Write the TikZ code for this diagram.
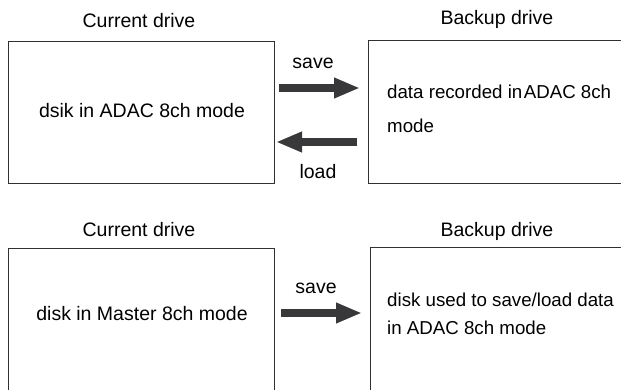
\documentclass[tikz,border=0pt]{standalone}
\usepackage{fontspec}
\setmainfont{Liberation Sans}
\usetikzlibrary{arrows.meta}
\definecolor{arrowgray}{HTML}{38383B}
\definecolor{linegray}{HTML}{303030}
\begin{document}
\begin{tikzpicture}[x=1pt,y=-1pt,
  lbl/.style={font=\fontsize{19.5}{23}\selectfont, inner sep=0pt, anchor=base, text=black},
  rlbl/.style={font=\fontsize{18.7}{23}\selectfont, inner sep=0pt, anchor=base west, text=black},
  box/.style={draw=linegray, line width=1.1pt, inner sep=0pt, anchor=north west},
  bigarrow/.style={draw=arrowgray, line width=8pt, -{Triangle[length=26pt,width=19pt]}}]
\useasboundingbox (0,0) rectangle (621,389);
\clip (0,0) rectangle (621,389);
\fill[white] (0,0) rectangle (621,389);

% top row
\node[lbl] (curlbl1) at (139,27) {Current drive};
\node[lbl] (baklbl1) at (497,24) {Backup drive};
\node[box, minimum width=266pt, minimum height=142pt] (cur1) at (8,41) {};
\node[box, minimum width=280pt, minimum height=143pt] (bak1) at (368,40) {};
\node[lbl] (cur1txt) at (142,117) {dsik in ADAC 8ch mode};
\node[rlbl] (bak1txtA) at (387,98) {data recorded in\hspace{1.5pt}ADAC 8ch};
\node[rlbl] (bak1txtB) at (387,132) {mode};

\coordinate (s1a) at (279,88);
\coordinate (s1b) at (360,88);
\coordinate (l1a) at (357,142);
\coordinate (l1b) at (276,142);
\draw[bigarrow] (s1a) -- (s1b);
\draw[bigarrow] (l1a) -- (l1b);
\node[lbl] (save1) at (313,68) {save};
\node[lbl] (load1) at (318,178) {load};

% bottom row
\node[lbl] (curlbl2) at (139,236) {Current drive};
\node[lbl] (baklbl2) at (497,236) {Backup drive};
\node[box, minimum width=266pt, minimum height=160pt] (cur2) at (8,248) {};
\node[box, minimum width=280pt, minimum height=160pt] (bak2) at (370,247) {};
\node[lbl] (cur2txt) at (142,320) {disk in Master 8ch mode};
\node[rlbl] (bak2txtA) at (387,306) {disk used to save/load data};
\node[rlbl] (bak2txtB) at (387,334) {in ADAC 8ch mode};

\coordinate (s2a) at (281,313);
\coordinate (s2b) at (362,313);
\draw[bigarrow] (s2a) -- (s2b);
\node[lbl] (save2) at (316,293) {save};
\end{tikzpicture}
\end{document}
